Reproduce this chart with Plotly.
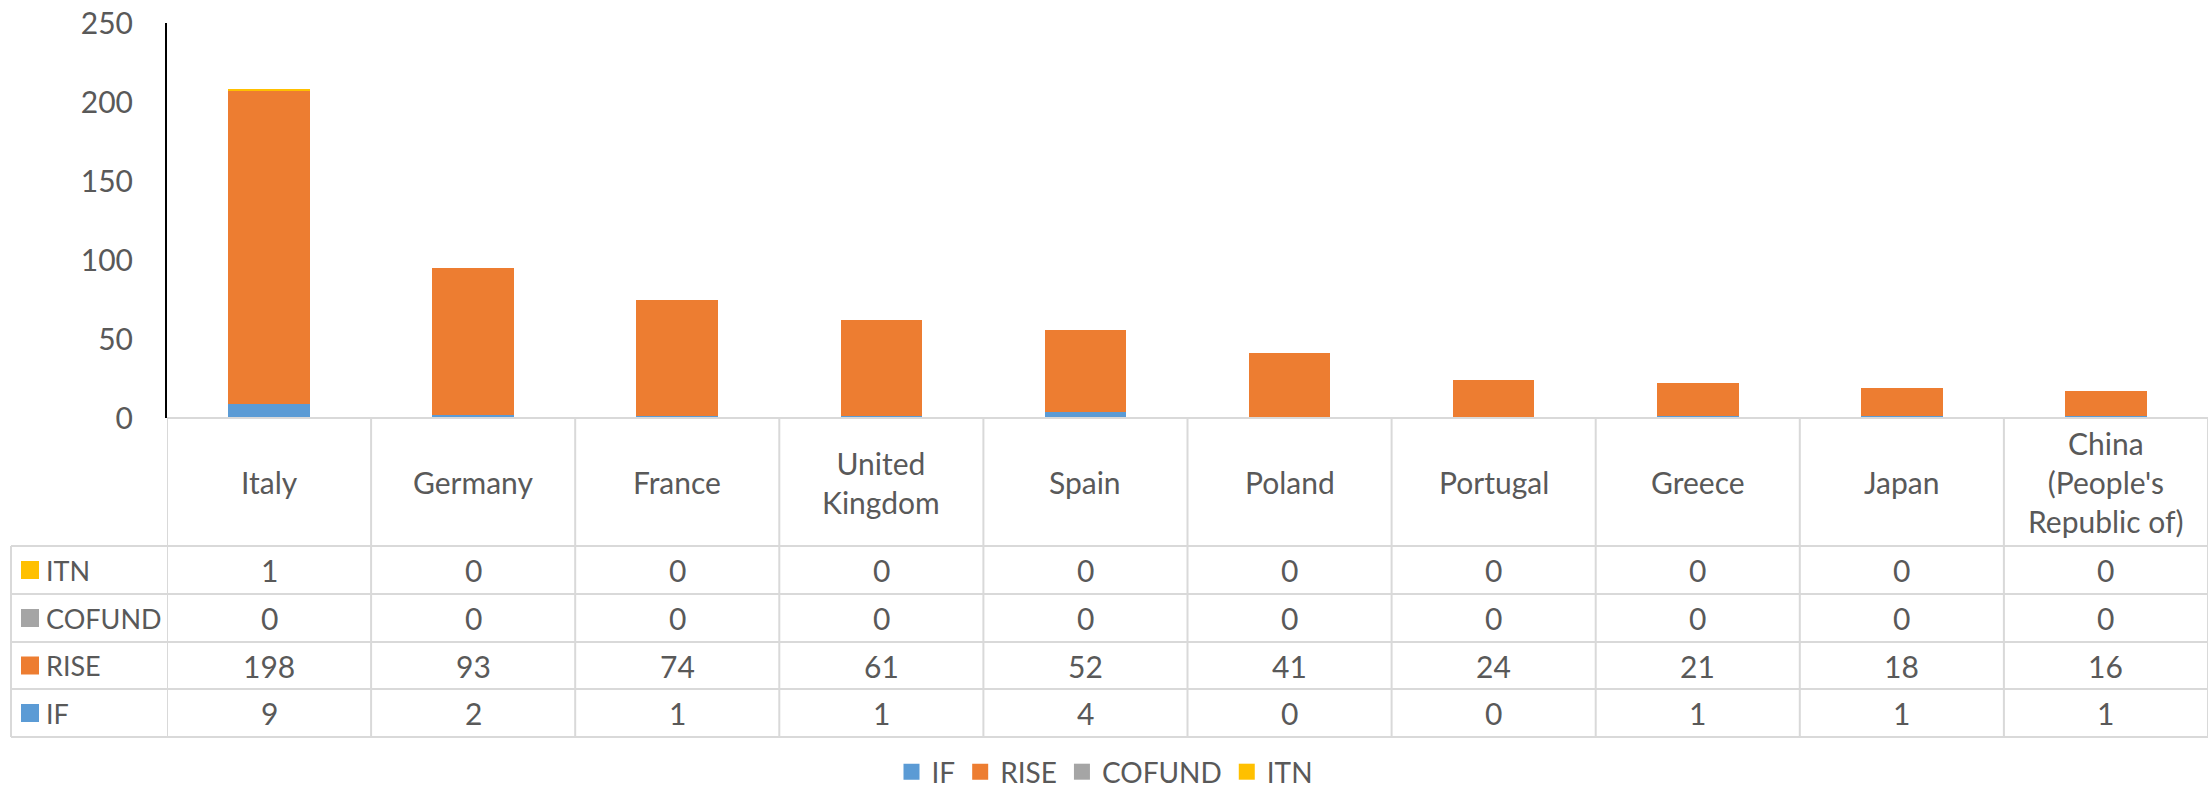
import plotly.graph_objects as go

countries = ["Italy", "Germany", "France", "United Kingdom", "Spain", "Poland",
             "Portugal", "Greece", "Japan", "China (People's Republic of)"]
country_labels = ["Italy", "Germany", "France", "United<br>Kingdom", "Spain", "Poland",
                  "Portugal", "Greece", "Japan", "China<br>(People's<br>Republic of)"]
IF = [9, 2, 1, 1, 4, 0, 0, 1, 1, 1]
RISE = [198, 93, 74, 61, 52, 41, 24, 21, 18, 16]
COFUND = [0, 0, 0, 0, 0, 0, 0, 0, 0, 0]
ITN = [1, 0, 0, 0, 0, 0, 0, 0, 0, 0]

series = [("IF", IF, "#5B9BD5"), ("RISE", RISE, "#ED7D31"),
          ("COFUND", COFUND, "#A5A5A5"), ("ITN", ITN, "#FFC000")]
table_rows = ["ITN", "COFUND", "RISE", "IF"]

W, H = 2211, 791
ML, MR, MT, MB = 167, 3, 23, 0
PW = W - ML - MR
PH = H - MT - MB
FONT = "Lato"
TXT = "#595959"
GRID = "#D9D9D9"
FS = 30


def py(p):
    return (H - MB - p) / PH


def px(p):
    return (p - ML) / PW


fig = go.Figure()
for name, vals, col in series:
    fig.add_trace(go.Bar(x=countries, y=vals, name=name, marker_color=col,
                         marker_line_width=0, width=0.4, showlegend=False))
# legend entries with square swatches
for name, vals, col in series:
    fig.add_trace(go.Scatter(x=[None], y=[None], mode="markers", name=name,
                             marker=dict(symbol="square", size=18, color=col)))

y0 = 418
row_lines = [546, 594, 642, 689, 737]
shapes = []
shapes.append(dict(type="line", xref="x", yref="paper", x0=-0.5, x1=len(countries) - 0.5,
                   y0=py(y0), y1=py(y0), line=dict(color=GRID, width=2)))
for r in row_lines:
    shapes.append(dict(type="line", xref="paper", yref="paper", x0=px(11), x1=1,
                       y0=py(r), y1=py(r), line=dict(color=GRID, width=2)))
shapes.append(dict(type="line", xref="paper", yref="paper", x0=px(11), x1=px(11),
                   y0=py(row_lines[0]), y1=py(row_lines[-1]), line=dict(color=GRID, width=2)))
for k in range(len(countries) + 1):
    shapes.append(dict(type="line", xref="x", yref="paper", x0=k - 0.5, x1=k - 0.5,
                       y0=py(y0), y1=py(row_lines[-1]), line=dict(color=GRID, width=2)))

annotations = []
for c, lab in zip(countries, country_labels):
    annotations.append(dict(x=c, xref="x", y=py((y0 + row_lines[0]) / 2), yref="paper",
                            text=lab, showarrow=False, xanchor="center", yanchor="middle",
                            font=dict(family=FONT, size=FS, color=TXT)))

data_map = {name: (vals, col) for name, vals, col in series}
for i, rname in enumerate(table_rows):
    vals, col = data_map[rname]
    yc = (row_lines[i] + row_lines[i + 1]) / 2
    shapes.append(dict(type="rect", xref="paper", yref="paper", x0=px(21), x1=px(39),
                       y0=py(yc - 9), y1=py(yc + 9), fillcolor=col, line=dict(width=0)))
    annotations.append(dict(x=px(44), xref="paper", y=py(yc), yref="paper", text=rname,
                            showarrow=False, xanchor="left", yanchor="middle",
                            font=dict(family=FONT, size=27, color=TXT)))
    for c, v in zip(countries, vals):
        annotations.append(dict(x=c, xref="x", y=py(yc), yref="paper", text=str(v),
                                showarrow=False, xanchor="center", yanchor="middle",
                                font=dict(family=FONT, size=FS, color=TXT)))

fig.update_layout(
    width=W, height=H,
    margin=dict(l=ML, r=MR, t=MT, b=MB, autoexpand=False),
    barmode="stack",
    plot_bgcolor="white", paper_bgcolor="white",
    font=dict(family=FONT, size=FS, color=TXT),
    xaxis=dict(showticklabels=False, showgrid=False, zeroline=False, showline=False,
               range=[-0.5, len(countries) - 0.5], automargin=False),
    yaxis=dict(domain=[py(y0), 1], range=[0, 250], dtick=50, showgrid=False,
               zeroline=False, showline=True, linecolor="black", linewidth=2,
               ticks="", ticklabelstandoff=26, automargin=False,
               tickfont=dict(family=FONT, size=FS, color=TXT)),
    legend=dict(orientation="h", x=px(1105), xanchor="center", y=py(772), yanchor="middle",
                font=dict(family=FONT, size=28, color=TXT), traceorder="normal",
                itemwidth=30, itemsizing="trace"),
    shapes=shapes, annotations=annotations,
)

fig.write_html("out.html", config={"displayModeBar": False},
               post_script="document.body.style.margin='0';document.body.style.overflow='hidden';")
